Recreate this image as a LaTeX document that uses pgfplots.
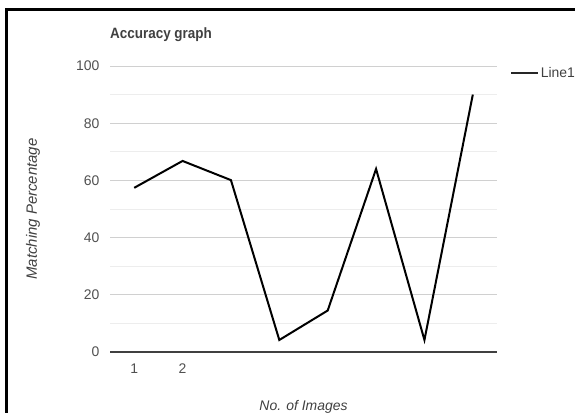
\documentclass[border=0pt]{standalone}
\usepackage{fontspec}
\setmainfont{Liberation Sans}
\newfontfamily\titlefont[FakeStretch=0.9]{Liberation Sans}
\usepackage{pgfplots}
\pgfplotsset{compat=1.18}

\definecolor{gridmaj}{HTML}{D0D0D0}
\definecolor{gridmin}{HTML}{EDEDED}
\definecolor{ticktext}{HTML}{505050}
\definecolor{labtext}{HTML}{404040}

\begin{document}
\begin{tikzpicture}[x=1bp,y=1bp]
\useasboundingbox (0,0) rectangle (575,412);
\begin{scope}
\clip (0,0) rectangle (575,412);
% outer frame (left and top edges visible)
\draw[line width=2.6bp] (6.5,-5) -- (6.5,402.7) -- (580,402.7);
\begin{axis}[
    at={(110bp,60bp)}, anchor=south west,
    scale only axis,
    width=387bp, height=286bp,
    xmin=0.5, xmax=8.5,
    ymin=0, ymax=100,
    xtick={1,2},
    ytick={0,20,40,60,80,100},
    minor ytick={10,30,50,70,90},
    ymajorgrids, yminorgrids,
    major grid style={gridmaj, line width=0.9bp},
    minor grid style={gridmin, line width=0.9bp},
    axis line style={draw=none},
    major tick length=0pt, minor tick length=0pt,
    ticklabel style={font=\fontsize{14}{16}\selectfont, text=ticktext},
    yticklabel style={xshift=-7bp},
    xticklabel style={yshift=-8bp},
    /pgf/number format/assume math mode=true,
    title={\titlefont\bfseries Accuracy graph},
    title style={font=\fontsize{15}{17}\selectfont, text=labtext,
        at={(axis description cs:0,1)}, anchor=base west,
        yshift=22bp, inner sep=0pt},
    ylabel={\textit{Matching Percentage}},
    ylabel style={font=\fontsize{15}{17}\selectfont, text=labtext,
        at={(axis description cs:-0.199,0.5)}, anchor=center,
        inner sep=0pt},
    xlabel={\textit{No. of Images}},
    xlabel style={font=\fontsize{14}{16}\selectfont, text=labtext,
        at={(axis description cs:0.5,0)}, anchor=base,
        yshift=-58bp, inner sep=0pt},
    legend style={draw=none, fill=none, at={(axis description cs:1.034,1.002)},
        anchor=north west, inner sep=0pt,
        font=\fontsize{14}{16}\selectfont,
        nodes={text=labtext, inner sep=1.5bp}},
    legend image code/.code={\draw[line width=2bp, black!85] (0bp,0bp) -- (27bp,0bp);},
    legend cell align=left,
    clip=false,
]
\draw[black!75, line width=1.3bp] (axis cs:0.5,0) -- (axis cs:8.5,0);
\addplot[black, line width=2bp, mark=none, line join=miter] coordinates {
    (1,57.4) (2,66.8) (3,60.1) (4,4.2) (5,14.5) (6,64.0) (7,4.2) (8,90.0)
};
\addlegendentry{Line1}
\end{axis}
\end{scope}
\end{tikzpicture}
\end{document}
